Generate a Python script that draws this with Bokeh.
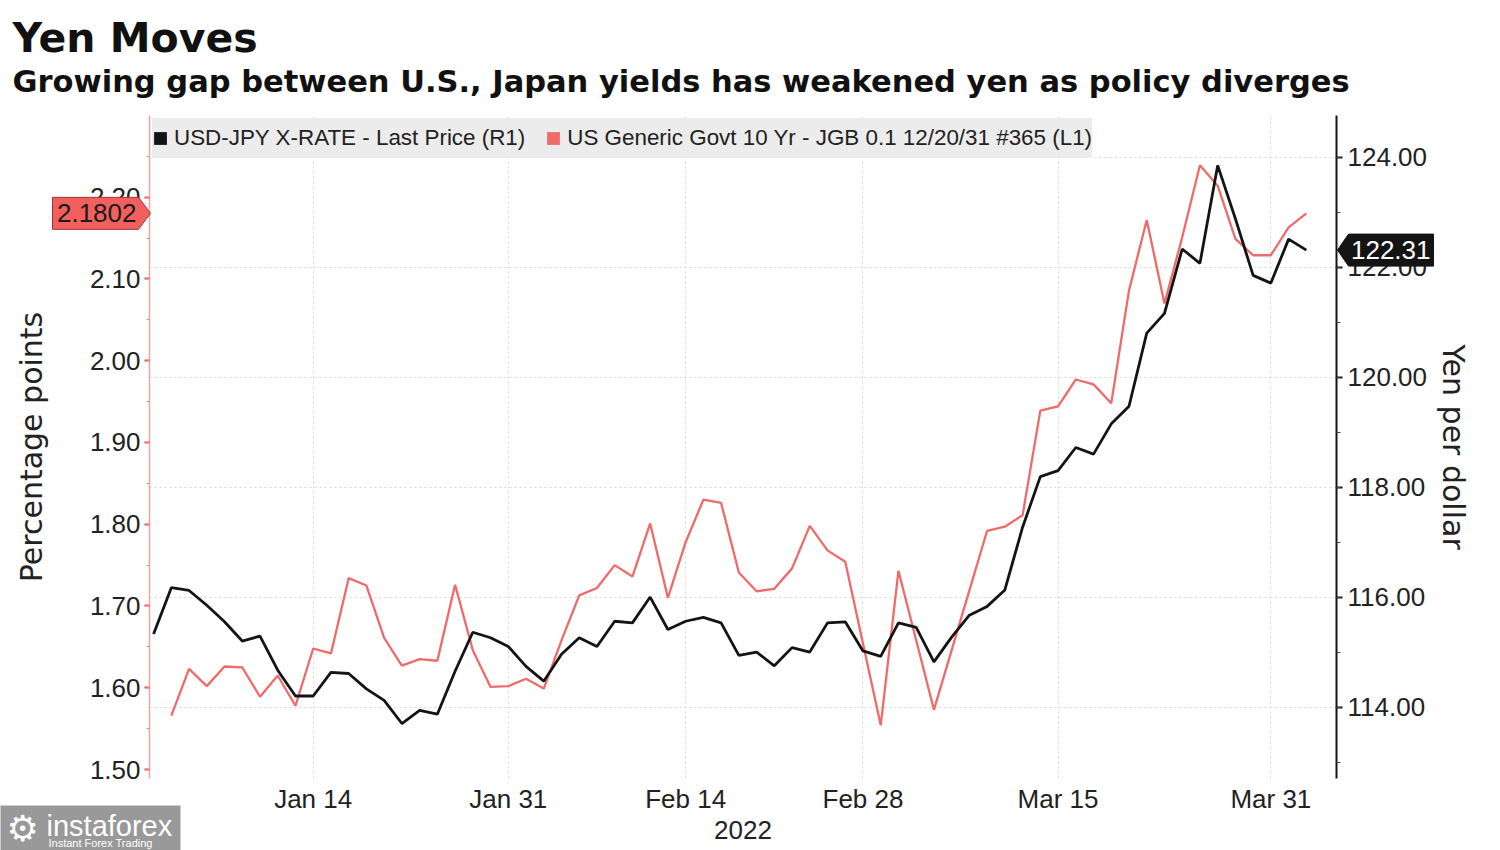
import numpy as np
import pandas as pd
from bokeh.plotting import figure
from bokeh.models import (Range1d, LinearAxis, FixedTicker, Legend, LegendItem,
                          Title, PrintfTickFormatter)
from bokeh.core.properties import value
from bokeh.embed import file_html
from bokeh.resources import INLINE

# ---------------- data ----------------
dates = pd.bdate_range("2022-01-03", "2022-04-04")   # trading days on the x axis

usdjpy = [115.33, 116.17, 116.12, 115.85, 115.55, 115.20, 115.29, 114.67, 114.20, 114.20,
          114.63, 114.61, 114.33, 114.12, 113.70, 113.94, 113.87, 114.65, 115.36, 115.26,
          115.10, 114.74, 114.47, 114.96, 115.26, 115.10, 115.56, 115.53, 116.00, 115.41,
          115.56, 115.63, 115.53, 114.94, 115.00, 114.75, 115.08, 115.00, 115.53, 115.55,
          115.02, 114.92, 115.53, 115.45, 114.82, 115.27, 115.67, 115.83, 116.13, 117.27,
          118.19, 118.30, 118.72, 118.60, 119.15, 119.47, 120.80, 121.16, 122.33, 122.07,
          123.85, 122.88, 121.85, 121.71, 122.51, 122.31]

spread = [np.nan, 1.566, 1.623, 1.602, 1.626, 1.625, 1.589, 1.615, 1.578, 1.648,
          1.642, 1.734, 1.725, 1.661, 1.627, 1.635, 1.633, 1.726, 1.646, 1.601,
          1.602, 1.611, 1.599, 1.658, 1.713, 1.722, 1.750, 1.736, 1.801, 1.710,
          1.778, 1.830, 1.826, 1.741, 1.718, 1.721, 1.746, 1.798, 1.768, 1.754,
          1.654, 1.554, 1.743, 1.658, 1.573, 1.646, 1.719, 1.792, 1.797, 1.811,
          1.939, 1.944, 1.977, 1.971, 1.948, 2.086, 2.172, 2.070, 2.151, 2.239,
          2.214, 2.149, 2.129, 2.129, 2.163, 2.1802]

tick_dates = ["2022-01-14", "2022-01-31", "2022-02-14", "2022-02-28", "2022-03-15", "2022-03-31"]
tick_labels = ["Jan 14", "Jan 31", "Feb 14", "Feb 28", "Mar 15", "Mar 31"]
pct_ticks = [1.50, 1.60, 1.70, 1.80, 1.90, 2.00, 2.10, 2.20]
pct_minor = [1.50, 1.55, 1.60, 1.65, 1.70, 1.75, 1.80, 1.85, 1.90, 1.95, 2.00, 2.05, 2.10,
             2.15, 2.20, 2.25, 2.30]
yen_ticks = [114, 116, 118, 120, 122, 124]
yen_minor = [113, 114, 115, 116, 117, 118, 119, 120, 121, 122, 123, 124]

last_spread = spread[-1]
last_usdjpy = usdjpy[-1]

title_text = "Yen Moves"
subtitle_text = "Growing gap between U.S., Japan yields has weakened yen as policy diverges"
legend_usdjpy = "USD-JPY X-RATE - Last Price (R1)"
legend_spread = "US Generic Govt 10 Yr - JGB 0.1 12/20/31 #365 (L1)"
wm_name = "instaforex"
wm_tag = "Instant Forex Trading"

# ---------------- layout constants ----------------
W, H = 1500, 850
B_LEFT, B_RIGHT, B_TOP, B_BOTTOM = 149, 164, 115, 72
X0, X1 = -0.23, 66.7
PCT0, PCT1 = 1.489, 2.2999
YEN0, YEN1 = 112.70, 124.758
FW = W - B_LEFT - B_RIGHT
FH = H - B_TOP - B_BOTTOM
px_x = (X1 - X0) / FW          # data units per pixel (x)
px_pct = (PCT1 - PCT0) / FH    # per pixel (left axis)
px_yen = (YEN1 - YEN0) / FH    # per pixel (right axis)

idx = list(range(len(dates)))
date_pos = {d.strftime("%Y-%m-%d"): i for i, d in enumerate(dates)}
tick_idx = [date_pos[d] for d in tick_dates]

RED = "#f06a6a"
BLACK = "#141414"
TICK_FONT = "Liberation Sans"

p = figure(width=W, height=H, output_backend="svg", toolbar_location=None,
           x_range=Range1d(X0, X1), y_range=Range1d(PCT0, PCT1),
           min_border_left=B_LEFT, min_border_right=B_RIGHT, min_border_top=B_TOP,
           min_border_bottom=B_BOTTOM, title=None, background_fill_color="white",
           border_fill_color="white")
p.outline_line_color = None
p.extra_y_ranges = {"yen": Range1d(YEN0, YEN1)}

# left axis (percentage points)
ya = p.yaxis[0]
ya.ticker = FixedTicker(ticks=pct_ticks, minor_ticks=pct_minor)
ya.formatter = PrintfTickFormatter(format="%.2f")
ya.axis_line_color = "#f3a3a3"
ya.axis_line_width = 1.5
ya.major_tick_line_color = "#e84a4f"
ya.minor_tick_line_color = "#f08a8a"
ya.major_tick_line_width = 2
ya.major_tick_in = 0
ya.major_tick_out = 5
ya.minor_tick_in = 0
ya.minor_tick_out = 3
ya.major_label_text_font = TICK_FONT
ya.major_label_text_font_size = "26px"
ya.major_label_text_color = "#222222"
ya.major_label_standoff = 4
ya.axis_label = "Percentage points"
ya.axis_label_text_font = "DejaVu Sans"
ya.axis_label_text_font_size = "30px"
ya.axis_label_text_font_style = "normal"
ya.axis_label_text_color = "#222222"
ya.axis_label_standoff = 38

# right axis (yen per dollar)
yr = LinearAxis(y_range_name="yen", ticker=FixedTicker(ticks=yen_ticks, minor_ticks=yen_minor),
                formatter=PrintfTickFormatter(format="%.2f"))
yr.axis_line_color = BLACK
yr.axis_line_width = 2
yr.major_tick_line_color = BLACK
yr.minor_tick_line_color = "#444444"
yr.major_tick_line_width = 2
yr.major_tick_in = 0
yr.major_tick_out = 6
yr.minor_tick_in = 0
yr.minor_tick_out = 4
yr.major_label_text_font = TICK_FONT
yr.major_label_text_font_size = "26px"
yr.major_label_text_color = "#222222"
yr.major_label_standoff = 5
yr.axis_label = "Yen per dollar"
yr.axis_label_text_font = "DejaVu Sans"
yr.axis_label_text_font_size = "30px"
yr.axis_label_text_font_style = "normal"
yr.axis_label_text_color = "#222222"
yr.axis_label_standoff = 6
p.add_layout(yr, "right")

# x axis
xa = p.xaxis[0]
xa.ticker = FixedTicker(ticks=tick_idx, minor_ticks=[])
xa.major_label_overrides = {i: lab for i, lab in zip(tick_idx, tick_labels)}
xa.axis_line_color = None
xa.major_tick_line_color = None
xa.minor_tick_line_color = None
xa.major_tick_in = 0
xa.major_tick_out = 0
xa.minor_tick_in = 0
xa.minor_tick_out = 0
xa.major_label_text_font = TICK_FONT
xa.major_label_text_font_size = "26px"
xa.major_label_text_color = "#222222"
xa.major_label_standoff = 5
xa.axis_label = "2022"
xa.axis_label_text_font = TICK_FONT
xa.axis_label_text_font_size = "26px"
xa.axis_label_text_font_style = "normal"
xa.axis_label_text_color = "#222222"
xa.axis_label_standoff = 4

# grids
p.xgrid.ticker = FixedTicker(ticks=tick_idx, minor_ticks=[])
p.xgrid.grid_line_color = "#d6d6d6"
p.xgrid.grid_line_dash = "2 3"
p.xgrid.grid_line_width = 1
p.ygrid[0].y_range_name = "yen"
p.ygrid.ticker = FixedTicker(ticks=yen_ticks, minor_ticks=[])
p.ygrid.grid_line_color = "#d6d6d6"
p.ygrid.grid_line_dash = "2 3"
p.ygrid.grid_line_width = 1

# lines
p.line(idx, spread, line_color=RED, line_width=2.3)
p.line(idx, usdjpy, line_color=BLACK, line_width=2.8, y_range_name="yen")

# legend with square swatches (zero-size blocks at the last points, only for the legend)
sw_k = p.block(x=[idx[-1]], y=[last_usdjpy], width=0, height=0, fill_color=BLACK,
               line_color=None, y_range_name="yen")
sw_r = p.block(x=[idx[-1]], y=[last_spread], width=0, height=0, fill_color=RED,
               line_color=None)
legend = Legend(items=[LegendItem(label=legend_usdjpy, renderers=[sw_k]),
                       LegendItem(label=legend_spread, renderers=[sw_r])],
                orientation="horizontal", location="top_left",
                background_fill_color="#ebebeb", background_fill_alpha=0.95,
                border_line_color=None, label_text_font=TICK_FONT,
                label_text_font_size="22.4px", label_text_color="#222222",
                label_height=40, glyph_width=16, glyph_height=16, label_standoff=6,
                spacing=20, padding=9, margin=3)
p.add_layout(legend)

# helpers: pixel offsets from the frame's left/top edge -> data coordinates
def sx(px):
    return X0 + px * px_x

def sy_pct(px_from_top):
    return PCT1 - px_from_top * px_pct

# last value tags drawn as overlay-level glyphs next to the axes
hp = 16  # half height of a tag, px
p.patch(x=[sx(-97), sx(-11), sx(1), sx(-11), sx(-97)],
        y=[last_spread + hp * px_pct, last_spread + hp * px_pct, last_spread,
           last_spread - hp * px_pct, last_spread - hp * px_pct],
        fill_color="#f25f5f", line_color="#a83232", line_width=1, level="overlay")
p.text(x=[sx(-13)], y=[last_spread], text=[f"{last_spread:.4f}"],
       text_align="right", text_baseline="middle", text_font=value(TICK_FONT),
       text_font_size=value("26px"), text_color="#1a1a1a", level="overlay")
p.patch(x=[sx(FW + 97), sx(FW + 12), sx(FW + 1), sx(FW + 12), sx(FW + 97)],
        y=[last_usdjpy + hp * px_yen, last_usdjpy + hp * px_yen, last_usdjpy,
           last_usdjpy - hp * px_yen, last_usdjpy - hp * px_yen],
        y_range_name="yen", fill_color=BLACK, line_color=BLACK, line_width=1, level="overlay")
p.text(x=[sx(FW + 94)], y=[last_usdjpy], y_range_name="yen", text=[f"{last_usdjpy:.2f}"],
       text_align="right", text_baseline="middle", text_font=value(TICK_FONT),
       text_font_size=value("26px"), text_color="white", level="overlay")

# watermark box in the bottom-left corner
p.quad(left=[sx(-149)], right=[sx(180 - B_LEFT)], top=[sy_pct(805 - B_TOP)],
       bottom=[sy_pct(850 - B_TOP)], fill_color="#8e8e8e", fill_alpha=0.9,
       line_color=None, level="overlay")
p.text(x=[sx(6 - B_LEFT)], y=[sy_pct(828 - B_TOP)], text=["\u2699"], text_align="left",
       text_baseline="middle", text_font=value("DejaVu Sans"), text_font_size=value("36px"),
       text_color="white", level="overlay")
p.text(x=[sx(46 - B_LEFT)], y=[sy_pct(825 - B_TOP)], text=[wm_name], text_align="left",
       text_baseline="middle", text_font=value("Liberation Sans"),
       text_font_size=value("29px"), text_color="white", level="overlay")
p.text(x=[sx(48 - B_LEFT)], y=[sy_pct(842 - B_TOP)], text=[wm_tag], text_align="left",
       text_baseline="middle", text_font=value("Liberation Sans"),
       text_font_size=value("11px"), text_color="white", level="overlay")

# titles (first added sits closest to the frame)
sub = Title(text=subtitle_text, text_font="DejaVu Sans", text_font_size="30.5px",
            text_font_style="bold", text_color="#111111", align="left", offset=-137)
ttl = Title(text=title_text, text_font="DejaVu Sans", text_font_size="41px",
            text_font_style="bold", text_color="#111111", align="left", offset=-137)
if "standoff" in sub.properties():
    sub.standoff = 34
    try:
        ttl.standoff = -35
    except Exception:
        ttl.standoff = 0
p.add_layout(sub, "above")
p.add_layout(ttl, "above")

open("out.html", "w").write(file_html(p, INLINE))
